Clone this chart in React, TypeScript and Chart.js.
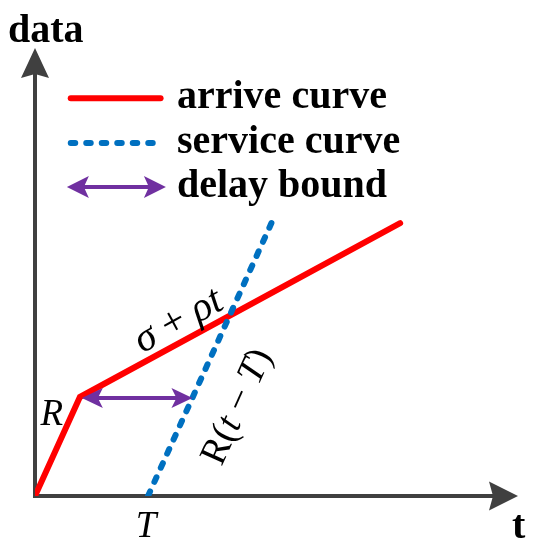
import React, { useEffect, useRef } from 'react';
import { Chart, registerables } from 'chart.js';
Chart.register(...registerables);

// ---- data (abstract units) ----
const xRange = [0, 10];
const yRange = [0, 10];
const arriveT = [0, 0.93, 7.56];
const arriveData = [0, 2.21, 6.09];
const serviceT = [2.34, 4.97];
const serviceData = [0, 6.27];
const delayT = [0.97, 3.26];
const delayData = [2.19, 2.19];
const legendLabels = ['arrive curve', 'service curve', 'delay bound'];
const legendLevels = [8.88, 7.88, 6.9];
const legendLineSpan = [0.74, 2.6];
const legendArrowSpan = [0.66, 2.71];
const legendTextX = 2.94;
const axisTitles = ['data', 't'];

const COLORS = { arrive: '#FF0000', service: '#0070C0', delay: '#7030A0', axis: '#404040' };
const SERIF = '"Liberation Serif", "Times New Roman", serif';

type Part = { t: string; it: boolean };

function arrowHead(ctx: CanvasRenderingContext2D, tx: number, ty: number, ang: number, len: number, hw: number, notch: number, color: string) {
  ctx.save();
  ctx.translate(tx, ty);
  ctx.rotate(ang);
  ctx.beginPath();
  ctx.moveTo(0, 0);
  ctx.lineTo(-len, -hw);
  ctx.lineTo(-len + notch, 0);
  ctx.lineTo(-len, hw);
  ctx.closePath();
  ctx.fillStyle = color;
  ctx.fill();
  ctx.restore();
}

function richText(ctx: CanvasRenderingContext2D, parts: Part[], cx: number, cy: number, ang: number, size: number) {
  ctx.save();
  ctx.translate(cx, cy);
  ctx.rotate(ang);
  ctx.fillStyle = '#000';
  ctx.textBaseline = 'alphabetic';
  ctx.textAlign = 'left';
  const fontOf = (p: Part) => `${p.it ? 'italic ' : ''}${size}px ${SERIF}`;
  let total = 0;
  const widths = parts.map((p) => {
    ctx.font = fontOf(p);
    const w = ctx.measureText(p.t).width;
    total += w;
    return w;
  });
  let x = -total / 2;
  parts.forEach((p, i) => {
    ctx.font = fontOf(p);
    ctx.fillText(p.t, x, size * 0.3);
    x += widths[i];
  });
  ctx.restore();
}

const diagramPlugin = {
  id: 'diagram',
  beforeDatasetsDraw(chart: any) {
    const ctx: CanvasRenderingContext2D = chart.ctx;
    const { left, right, top, bottom } = chart.chartArea;
    ctx.save();
    ctx.strokeStyle = COLORS.axis;
    ctx.lineWidth = 4;
    ctx.lineCap = 'butt';
    ctx.beginPath();
    ctx.moveTo(left, bottom + 2);
    ctx.lineTo(left, top + 20);
    ctx.moveTo(left - 2, bottom);
    ctx.lineTo(right - 20, bottom);
    ctx.stroke();
    arrowHead(ctx, left, top, -Math.PI / 2, 30, 14, 4, COLORS.axis);
    arrowHead(ctx, right, bottom, 0, 29, 14.5, 4, COLORS.axis);
    ctx.restore();
  },
  afterDatasetsDraw(chart: any) {
    const ctx: CanvasRenderingContext2D = chart.ctx;
    const xs = chart.scales.x;
    const ys = chart.scales.y;
    const px = (v: number) => xs.getPixelForValue(v);
    const py = (v: number) => ys.getPixelForValue(v);
    const { left, right, bottom, top } = chart.chartArea;

    // delay bound arrowheads (main)
    const dy = py(delayData[0]);
    arrowHead(ctx, px(delayT[0]), dy, Math.PI, 21, 10, 5, COLORS.delay);
    arrowHead(ctx, px(delayT[1]), dy, 0, 21, 10, 5, COLORS.delay);
    // legend arrow
    const ly = py(legendLevels[2]);
    arrowHead(ctx, px(legendArrowSpan[0]), ly, Math.PI, 22, 11, 5, COLORS.delay);
    arrowHead(ctx, px(legendArrowSpan[1]), ly, 0, 22, 11, 5, COLORS.delay);

    ctx.save();
    ctx.fillStyle = '#000';
    // legend labels
    ctx.font = `bold 40px ${SERIF}`;
    ctx.textAlign = 'left';
    ctx.textBaseline = 'alphabetic';
    legendLabels.forEach((lab, i) => {
      ctx.fillText(lab, px(legendTextX), py(legendLevels[i]) + 10);
    });
    // axis titles
    ctx.fillText(axisTitles[0], left - 27, top - 6);
    ctx.fillText(axisTitles[1], right - 6, bottom + 42);
    // R and T
    ctx.font = `italic 37px ${SERIF}`;
    ctx.textAlign = 'center';
    ctx.fillText('R', px(0.35), py(1.58));
    ctx.fillText('T', px(2.3), bottom + 41);
    ctx.restore();

    // rotated labels
    const a1 = Math.atan2(py(arriveData[2]) - py(arriveData[1]), px(arriveT[2]) - px(arriveT[1]));
    richText(ctx, [{ t: 'σ', it: true }, { t: ' + ', it: false }, { t: 'ρt', it: true }], px(2.96), py(3.93), a1, 41);
    const a2 = Math.atan2(py(serviceData[1]) - py(serviceData[0]), px(serviceT[1]) - px(serviceT[0]));
    richText(
      ctx,
      [{ t: 'R(', it: false }, { t: 't', it: true }, { t: ' − ', it: false }, { t: 'T', it: true }, { t: ')', it: false }],
      px(4.17),
      py(2.0),
      a2,
      38
    );
  },
};

export default function App() {
  const ref = useRef<HTMLCanvasElement>(null);
  useEffect(() => {
    if (!ref.current) return;
    const pts = (xs: number[], ys: number[]) => xs.map((x, i) => ({ x, y: ys[i] }));
    const chart = new Chart(ref.current, {
      type: 'scatter',
      data: {
        datasets: [
          {
            label: 'service curve',
            data: pts(serviceT, serviceData),
            showLine: true,
            borderColor: COLORS.service,
            borderWidth: 6,
            borderDash: [5, 10.5],
            borderCapStyle: 'round',
            pointRadius: 0,
          },
          {
            label: 'arrive curve',
            data: pts(arriveT, arriveData),
            showLine: true,
            borderColor: COLORS.arrive,
            borderWidth: 6,
            borderCapStyle: 'round',
            borderJoinStyle: 'miter',
            pointRadius: 0,
          },
          {
            label: 'delay bound',
            data: pts([delayT[0] + 0.3, delayT[1] - 0.3], delayData),
            showLine: true,
            borderColor: COLORS.delay,
            borderWidth: 4,
            pointRadius: 0,
          },
          {
            label: 'legend arrive',
            data: pts(legendLineSpan, [legendLevels[0], legendLevels[0]]),
            showLine: true,
            borderColor: COLORS.arrive,
            borderWidth: 6,
            borderCapStyle: 'round',
            pointRadius: 0,
          },
          {
            label: 'legend service',
            data: pts(legendLineSpan, [legendLevels[1], legendLevels[1]]),
            showLine: true,
            borderColor: COLORS.service,
            borderWidth: 6,
            borderDash: [4.5, 11],
            borderCapStyle: 'round',
            pointRadius: 0,
          },
          {
            label: 'legend delay',
            data: pts([legendArrowSpan[0] + 0.3, legendArrowSpan[1] - 0.3], [legendLevels[2], legendLevels[2]]),
            showLine: true,
            borderColor: COLORS.delay,
            borderWidth: 4,
            pointRadius: 0,
          },
        ],
      },
      options: {
        responsive: false,
        animation: false,
        layout: { padding: { left: 35, top: 48, right: 21, bottom: 54 } },
        scales: {
          x: { type: 'linear', min: xRange[0], max: xRange[1], display: false },
          y: { type: 'linear', min: yRange[0], max: yRange[1], display: false },
        },
        plugins: { legend: { display: false }, tooltip: { enabled: false } },
      },
      plugins: [diagramPlugin],
    });
    return () => chart.destroy();
  }, []);
  return (
    <div style={{ position: 'fixed', left: 0, top: 0, width: 539, height: 550, background: '#fff' }}>
      <canvas ref={ref} width={539} height={550} />
    </div>
  );
}
